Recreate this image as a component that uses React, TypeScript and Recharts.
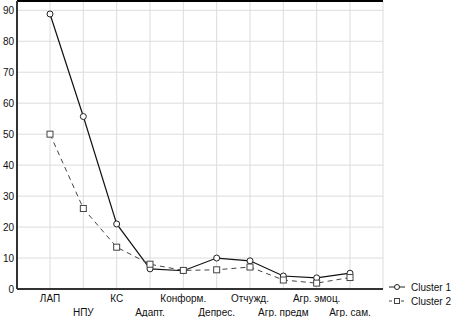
import React from "react";
import {
  LineChart,
  Line,
  XAxis,
  YAxis,
  CartesianGrid,
  Legend,
  ReferenceLine,
} from "recharts";

const categories = [
  "ЛАП",
  "НПУ",
  "КС",
  "Адапт.",
  "Конформ.",
  "Депрес.",
  "Отчужд.",
  "Агр. предм",
  "Агр. эмоц.",
  "Агр. сам.",
];
const cluster1 = [88.8, 55.7, 21, 6.5, 5.9, 10, 9.1, 4.2, 3.6, 5.1];
const cluster2 = [50, 26, 13.5, 8, 6, 6.2, 7.1, 2.9, 1.9, 3.7];
const yTicks = [0, 10, 20, 30, 40, 50, 60, 70, 80, 90];

const data = categories.map((name, i) => ({
  name,
  c1: cluster1[i],
  c2: cluster2[i],
}));

const FONT = "'Liberation Sans', Arial, sans-serif";

const CatTick = (props: any) => {
  const { x, payload, index } = props;
  const y = index % 2 === 0 ? 302 : 316;
  return (
    <text
      x={x}
      y={y}
      textAnchor="middle"
      fontSize={10}
      fontFamily={FONT}
      fill="#111"
    >
      {payload.value}
    </text>
  );
};

const Circle = (props: any) => {
  const { cx, cy } = props;
  if (cx == null || cy == null) return null;
  return <circle cx={cx} cy={cy} r={3} fill="#fff" stroke="#222" strokeWidth={1} />;
};

const Square = (props: any) => {
  const { cx, cy } = props;
  if (cx == null || cy == null) return null;
  return (
    <rect x={cx - 3} y={cy - 3} width={6} height={6} fill="#fff" stroke="#444" strokeWidth={1} />
  );
};

const LegendContent = () => (
  <svg width={72} height={30} style={{ display: "block" }}>
    <line x1={3} x2={19} y1={7} y2={7} stroke="#222" strokeWidth={1} />
    <circle cx={11} cy={7} r={2.5} fill="#fff" stroke="#222" />
    <text x={25} y={11} fontSize={10} fontFamily={FONT} fill="#111">
      Cluster  1
    </text>
    <line x1={3} x2={19} y1={21} y2={21} stroke="#444" strokeWidth={1} strokeDasharray="3 3" />
    <rect x={8.5} y={18.5} width={5} height={5} fill="#fff" stroke="#444" />
    <text x={25} y={25} fontSize={10} fontFamily={FONT} fill="#111">
      Cluster  2
    </text>
  </svg>
);

export default function App() {
  return (
    <div style={{ position: "absolute", left: 0, top: 0, background: "#fff" }}>
      <LineChart
        width={457}
        height={317}
        data={data}
        margin={{ top: 1, right: 74, bottom: 0, left: 0 }}
      >
        <CartesianGrid stroke="#dcdcdc" />
        <XAxis
          dataKey="name"
          interval={0}
          height={28}
          padding={{ left: 33, right: 33 }}
          axisLine={{ stroke: "#333", strokeWidth: 2 }}
          tickLine={false}
          tickSize={0}
          tick={<CatTick />}
        />
        <YAxis
          domain={[0, 93]}
          ticks={yTicks}
          width={17}
          interval={0}
          tickLine={false}
          tickSize={0}
          tickMargin={3}
          axisLine={{ stroke: "#333", strokeWidth: 2 }}
          tick={{ fontSize: 10, fontFamily: FONT, fill: "#111" }}
        />
        <YAxis
          yAxisId="right"
          orientation="right"
          width={0}
          tick={false}
          tickLine={false}
          axisLine={{ stroke: "#444", strokeWidth: 2 }}
        />
        <ReferenceLine y={93} stroke="#000" strokeWidth={2} />
        <Line
          dataKey="c1"
          stroke="#111"
          strokeWidth={1.2}
          dot={<Circle />}
          activeDot={false}
          isAnimationActive={false}
        />
        <Line
          dataKey="c2"
          stroke="#444"
          strokeWidth={1}
          strokeDasharray="5 4"
          dot={<Square />}
          activeDot={false}
          isAnimationActive={false}
        />
        <Legend
          layout="vertical"
          align="center"
          verticalAlign="middle"
          wrapperStyle={{ left: 386, top: 280, width: 72 }}
          content={<LegendContent />}
        />
      </LineChart>
    </div>
  );
}
